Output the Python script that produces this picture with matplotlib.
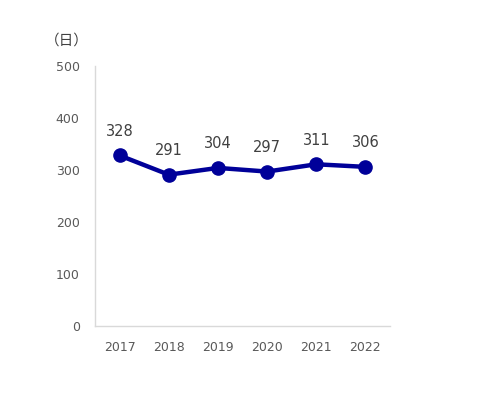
import matplotlib
matplotlib.use("Agg")
import matplotlib.pyplot as plt

years = ["2017", "2018", "2019", "2020", "2021", "2022"]
days = [328, 291, 304, 297, 311, 306]
yticks = [0, 100, 200, 300, 400, 500]

plt.rcParams['font.family'] = ['DejaVu Sans', 'Noto Sans CJK JP']

fig = plt.figure(figsize=(4.8, 3.95), dpi=100)
ax = fig.add_axes([95/480, 69/395, 295/480, 260/395])
x = list(range(len(years)))
ax.plot(x, days, color="#000099", lw=3.2, marker="o", ms=9.5, solid_capstyle="round")
for xi, v in zip(x, days):
    ax.annotate(str(v), (xi, v), xytext=(0, 12), textcoords="offset points",
                ha="center", va="bottom", fontsize=10.5, color="#404040")
ax.set_xlim(-0.5, 5.5)
ax.set_ylim(0, 500)
ax.set_xticks(x)
ax.set_xticklabels(years)
ax.set_yticks(yticks)
ax.tick_params(length=0, labelsize=9, colors="#595959")
ax.tick_params(axis="y", pad=11)
ax.tick_params(axis="x", pad=11)
for s in ["top", "right"]:
    ax.spines[s].set_visible(False)
for s in ["left", "bottom"]:
    ax.spines[s].set_color("#d9d9d9")
    ax.spines[s].set_linewidth(1)
fig.text(67/480, 1 - 41/395, "（日）", ha="center", va="center", fontsize=10.5,
         color="#404040", family=['Noto Sans CJK JP', 'DejaVu Sans'])
fig.savefig("out.png", dpi=100)
